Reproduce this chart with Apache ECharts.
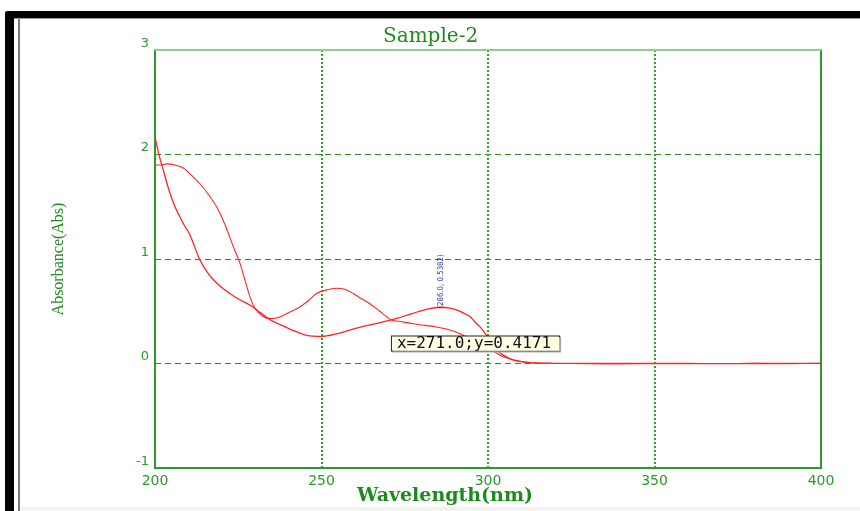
<!DOCTYPE html>
<html>
<head>
<meta charset="utf-8">
<title>Sample-2</title>
<script src="https://cdn.jsdelivr.net/npm/echarts@6/dist/echarts.min.js"></script>
<style>
  html, body { margin: 0; padding: 0; background: #fff; }
  #chart { width: 860px; height: 511px; }
</style>
</head>
<body>
<div id="chart"></div>
<script>
// Wavelength scans (nm) and absorbance for the two traces of Sample-2
const waveA = [200, 201, 202.5, 204, 206, 208.5, 210.5, 213.5, 216, 218.5, 222, 225.5, 228.5, 231.5, 235, 238.5, 242, 245.5, 250, 254, 258.5, 262, 266, 271, 274, 277.5, 280, 282.5, 286, 288.5, 290.7, 292.5, 294.6, 296, 297.6, 299.6, 301.6, 303, 304.6, 307, 309.6, 312, 315, 320, 330, 340, 350, 360, 370, 380, 390, 400];
const absA  = [2.17, 2.02, 1.85, 1.68, 1.50, 1.34, 1.23, 0.99, 0.86, 0.77, 0.68, 0.61, 0.56, 0.49, 0.41, 0.36, 0.31, 0.27, 0.26, 0.28, 0.32, 0.35, 0.38, 0.4171, 0.445, 0.48, 0.505, 0.525, 0.5382, 0.53, 0.51, 0.485, 0.45, 0.40, 0.35, 0.27, 0.18, 0.12, 0.08, 0.04, 0.02, 0.01, 0.004, 0.002, 0, 0, 0.002, 0, -0.002, 0, 0, 0.002];

const waveB = [200, 201.5, 203.5, 206, 208.5, 211, 213.5, 216, 218.5, 221, 223.5, 225.5, 227, 228.5, 230, 232.5, 234.5, 236.5, 238.5, 241, 243.5, 246, 248.5, 251, 254.5, 257, 259.5, 262, 264.6, 267.5, 271, 274, 277.5, 281, 284.6, 287.5, 290.6, 292.5, 294.6, 297, 299.6, 301.5, 303.6, 306, 309.6, 312, 315, 320, 330, 340, 350, 360, 370, 380, 390, 400];
const absB  = [1.90, 1.90, 1.91, 1.90, 1.87, 1.80, 1.72, 1.62, 1.50, 1.33, 1.12, 0.96, 0.80, 0.64, 0.53, 0.45, 0.43, 0.435, 0.46, 0.50, 0.54, 0.60, 0.67, 0.70, 0.72, 0.71, 0.67, 0.62, 0.57, 0.50, 0.4171, 0.40, 0.38, 0.365, 0.35, 0.33, 0.30, 0.27, 0.24, 0.20, 0.16, 0.12, 0.08, 0.05, 0.02, 0.01, 0.004, 0.0, 0.0, -0.002, -0.003, 0, 0, 0.001, 0, 0.002];

// Peak pick and cursor readout
const peak = [286.0, 0.5382];
const cursor = [271.0, 0.4171];

// Axis ranges
const xRange = { min: 200, max: 400, step: 50 };
const yRange = { min: -1, max: 3, step: 1 };

const green = '#2a9a2a';
const darkGreen = '#1e8a1e';

const pairs = (xs, ys) => xs.map((x, i) => [x, ys[i]]);

const chart = echarts.init(document.getElementById('chart'), null, { renderer: 'canvas' });

chart.setOption({
  backgroundColor: '#ffffff',
  animation: false,
  title: {
    text: 'Sample-2',
    left: 378,
    top: 22,
    textStyle: { fontFamily: 'DejaVu Serif', fontSize: 20, fontWeight: 'normal', color: darkGreen }
  },
  grid: {
    left: 155, right: 39, top: 50, bottom: 43,
    outerBoundsMode: 'none', containLabel: false,
    show: true, borderColor: green, borderWidth: 2, backgroundColor: 'transparent'
  },
  xAxis: [{
    type: 'value', min: xRange.min, max: xRange.max, interval: xRange.step,
    name: 'Wavelength(nm)', nameLocation: 'middle', nameGap: 19, nameMoveOverlap: false,
    nameTextStyle: { fontFamily: 'DejaVu Serif', fontWeight: 'bold', fontSize: 19, color: darkGreen, padding: [0, 0, 0, -86] },
    axisLine: { show: true, onZero: false, lineStyle: { color: green, width: 2 } },
    axisTick: { show: false },
    axisLabel: { margin: 6, fontFamily: 'DejaVu Sans', fontSize: 14, color: green },
    splitLine: { show: true, showMinLine: false, showMaxLine: false, lineStyle: { color: '#22aa22', width: 2, type: [2, 2] } }
  }, {
    type: 'value', position: 'top', min: xRange.min, max: xRange.max, interval: xRange.step,
    axisLine: { show: true, onZero: false, lineStyle: { color: '#8fd08f', width: 2 } },
    axisTick: { show: false }, axisLabel: { show: false }, splitLine: { show: false }
  }],
  yAxis: {
    type: 'value', min: yRange.min, max: yRange.max, interval: yRange.step,
    name: 'Absorbance(Abs)', nameLocation: 'middle', nameGap: 88, nameRotate: 90, nameMoveOverlap: false,
    nameTextStyle: { fontFamily: 'Liberation Serif', fontSize: 16, color: darkGreen },
    axisLine: { show: true, onZero: false, lineStyle: { color: green, width: 2 } },
    axisTick: { show: false },
    axisLabel: { margin: 6, fontFamily: 'DejaVu Sans', fontSize: 13, color: green, verticalAlign: 'bottom' },
    splitLine: { show: true, showMinLine: false, showMaxLine: false, lineStyle: { color: '#2d8a2d', width: 1, type: [6, 4] } }
  },
  graphic: [
    { type: 'rect', silent: true, shape: { x: 5, y: 11, width: 855, height: 7, r: [3, 0, 0, 0] }, style: { fill: '#000' } },
    { type: 'rect', silent: true, shape: { x: 5, y: 11, width: 9, height: 500, r: [3, 0, 0, 0] }, style: { fill: '#000' } },
    { type: 'rect', silent: true, shape: { x: 18, y: 18, width: 2, height: 493 }, style: { fill: '#7a7a72' } },
    { type: 'rect', silent: true, shape: { x: 14, y: 18, width: 846, height: 1 }, style: { fill: '#9a9a9a' } },
    { type: 'rect', silent: true, shape: { x: 20, y: 507, width: 840, height: 4 }, style: { fill: '#f2f2f0' } }
  ],
  series: [{
    type: 'line', name: 'scan-1', data: pairs(waveA, absA),
    showSymbol: false, smooth: 0.3, clip: true,
    lineStyle: { color: '#ff2424', width: 1.3 },
    markPoint: {
      symbol: 'circle', symbolSize: 1, itemStyle: { color: 'transparent' },
      data: [{
        coord: peak,
        label: {
          show: true, formatter: '(' + peak[0].toFixed(1) + ', ' + peak[1].toFixed(4) + ')',
          position: [0, 2], rotate: 90, align: 'left', verticalAlign: 'middle',
          fontFamily: 'Liberation Sans Narrow, DejaVu Sans Condensed', fontSize: 7.8, color: '#25349a'
        }
      }, {
        coord: cursor,
        label: {
          show: true, formatter: 'x=' + cursor[0].toFixed(1) + ';y=' + cursor[1].toFixed(4),
          position: [1, 17], align: 'left', verticalAlign: 'top',
          fontFamily: 'DejaVu Sans Mono', fontSize: 16, lineHeight: 12, color: '#111',
          backgroundColor: '#ffffe4', borderColor: '#222', borderWidth: 1, padding: [1, 8, 1, 5],
          shadowColor: '#aaa', shadowOffsetX: 1, shadowOffsetY: 1
        }
      }]
    }
  }, {
    type: 'line', name: 'scan-2', data: pairs(waveB, absB),
    showSymbol: false, smooth: 0.3, clip: true,
    lineStyle: { color: '#ff2424', width: 1.1 }
  }]
});
</script>
</body>
</html>
